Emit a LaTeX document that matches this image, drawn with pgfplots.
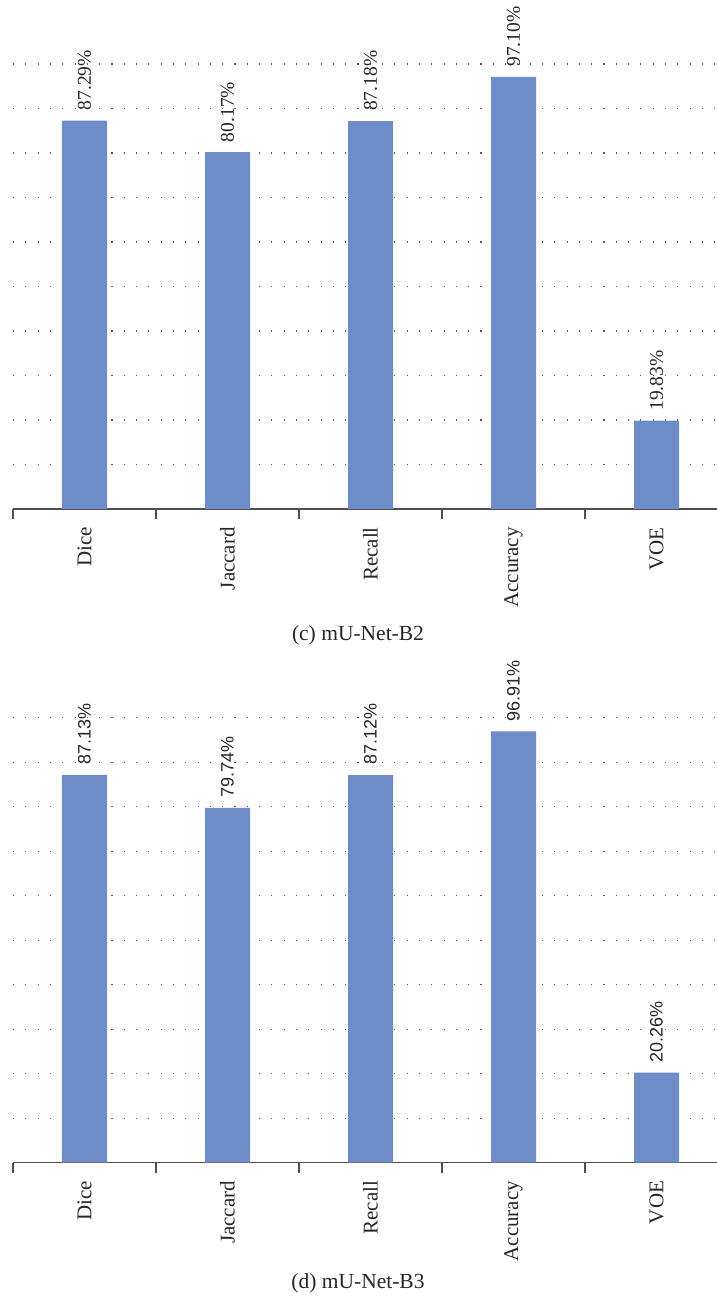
\documentclass[border=0pt]{standalone}
\usepackage{pgfplots}
\pgfplotsset{compat=1.18}
\usepackage{fontspec}
\setmainfont{Liberation Serif}
\newfontfamily\valsans{Liberation Sans}

\definecolor{barblue}{RGB}{110,141,200}
\definecolor{axisgray}{RGB}{80,80,80}

\newcommand\serifvalfont{\fontsize{19.5}{19.5}\selectfont}
\newcommand\sansvalfont{\valsans\fontsize{18}{18}\selectfont}

\pgfplotsset{
  metricbars/.style={
    scale only axis, width=715pt, height=445pt,
    xmin=0, xmax=5, ymin=0, ymax=100,
    axis lines*=left,
    y axis line style={draw=none},
    x axis line style={draw=axisgray, line width=1.4pt},
    ytick={10,20,...,100}, yticklabels={},
    ytick style={draw=none},
    ymajorgrids,
    major grid style={black!65, line width=1.1pt, dash pattern=on 1.1pt off 11.2pt},
    xtick={0.5,1.5,2.5,3.5,4.5},
    xticklabels={Dice,Jaccard,Recall,Accuracy,VOE},
    major x tick style={draw=none},
    minor xtick={0,1,2,3,4,5},
    minor x tick style={draw=axisgray, line width=1.2pt},
    minor tick length=10pt,
    major tick length=0pt,
    tick align=outside,
    xticklabel style={rotate=90, anchor=east, inner sep=0pt,
      font=\fontsize{21}{21}\selectfont, text=black!85},
    xticklabel shift=18pt,
    ybar, bar width=45pt,
    clip=false,
    /pgf/number format/assume math mode=true,
    nodes near coords={\pgfmathprintnumber[fixed,fixed zerofill,precision=2,assume math mode=true]{\pgfplotspointmeta}\%},
    every node near coord/.append style={rotate=90, anchor=west,
      inner sep=0pt, inner xsep=10pt, text=black!85},
  }
}

\begin{document}
\begin{tikzpicture}
% (c) mU-Net-B2
\begin{axis}[metricbars, at={(13pt,790pt)}, anchor=south west,
  every node near coord/.append style={font=\serifvalfont}]
  \addplot[fill=barblue, draw=none] coordinates {
    (0.5,87.29) (1.5,80.17) (2.5,87.18) (3.5,97.10) (4.5,19.83)};
\end{axis}
\node[font=\fontsize{21.5}{21.5}\selectfont, text=black!85] at (358pt,664pt) {(c) mU-Net-B2};

% (d) mU-Net-B3
\begin{axis}[metricbars, at={(13pt,136.3pt)}, anchor=south west,
  every node near coord/.append style={font=\sansvalfont}]
  \addplot[fill=barblue, draw=none] coordinates {
    (0.5,87.13) (1.5,79.74) (2.5,87.12) (3.5,96.91) (4.5,20.26)};
\end{axis}
\node[font=\fontsize{21.5}{21.5}\selectfont, text=black!85] at (358pt,16pt) {(d) mU-Net-B3};

\pgfresetboundingbox
\useasboundingbox (0,0) rectangle (717pt,1299pt);
\end{tikzpicture}
\end{document}
